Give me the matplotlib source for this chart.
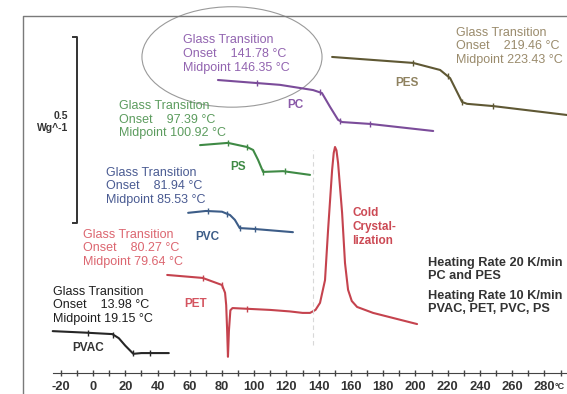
import numpy as np
import matplotlib
matplotlib.use("Agg")
import matplotlib.pyplot as plt
from matplotlib.patches import Ellipse

plt.rcParams['font.family'] = ['Liberation Sans', 'DejaVu Sans']

# DSC curves, temperature in degC, heat flow in W/g (offset stacked)
pvac_T = [-25, -5, 12, 16, 20, 25, 30, 47]
pvac_q = [0.169, 0.165, 0.161, 0.150, 0.130, 0.108, 0.110, 0.110]
pvac_ticks = [-3, 12.4, 24.8, 35.4]

pet_T = [46, 68, 80, 81.9, 82.6, 83.2, 83.7, 84.3, 85.2, 86.5, 110, 122, 130,
         134.6, 138, 140.8, 143.9, 145.8, 148.3, 149.3, 150.1, 151, 152, 154.5,
         156.3, 158.2, 160.5, 163.8, 173.7, 201]
pet_q = [0.320, 0.312, 0.293, 0.272, 0.239, 0.170, 0.100, 0.170, 0.225, 0.231,
         0.226, 0.222, 0.218, 0.218, 0.226, 0.245, 0.306, 0.441, 0.602, 0.648,
         0.664, 0.655, 0.621, 0.487, 0.352, 0.280, 0.250, 0.234, 0.218, 0.188]
pet_ticks = [68.2, 80, 95.5]

pvc_T = [59, 70, 80, 85, 88, 91, 99, 124]
pvc_q = [0.487, 0.492, 0.490, 0.481, 0.468, 0.446, 0.444, 0.435]
pvc_ticks = [71.3, 83, 91, 100.5]

ps_T = [66.4, 83.7, 95.5, 99.3, 102.4, 105.5, 117.9, 134.6]
ps_q = [0.669, 0.675, 0.664, 0.656, 0.629, 0.597, 0.599, 0.589]
ps_ticks = [83.7, 95.5, 105.5, 119]

pc_T = [77.5, 116, 136.5, 142, 147, 152, 154.5, 171.8, 211]
pc_q = [0.844, 0.831, 0.817, 0.809, 0.772, 0.737, 0.731, 0.726, 0.707]
pc_ticks = [101.7, 140.8, 153, 171.8]

pes_T = [148.3, 198.5, 215.3, 221.5, 228.9, 232, 248.1, 294]
pes_q = [0.906, 0.890, 0.871, 0.849, 0.785, 0.780, 0.774, 0.750]
pes_ticks = [198.5, 220, 229, 248]

scale_bar = 0.5
temp_ticks = list(range(-20, 281, 20))

c_pvac = "#262626"
c_pet = "#c5434e"
c_pvc = "#3d5d88"
c_ps = "#3f8a45"
c_pc = "#7b4c9a"
c_pes = "#5f5834"

fig = plt.figure(figsize=(5.67, 3.94), dpi=100)
ax = fig.add_axes([0, 0, 1, 1])
ax.set_xlim(-57.7, 294.0)
ax.set_ylim(0, 1.0591)

curves = [
    (pvac_T, pvac_q, pvac_ticks, c_pvac),
    (pet_T, pet_q, pet_ticks, c_pet),
    (pvc_T, pvc_q, pvc_ticks, c_pvc),
    (ps_T, ps_q, ps_ticks, c_ps),
    (pc_T, pc_q, pc_ticks, c_pc),
    (pes_T, pes_q, pes_ticks, c_pes),
]
for T, q, tk, col in curves:
    ax.plot(T, q, color=col, lw=1.5, solid_capstyle='round')
    ax.plot(tk, np.interp(tk, T, q), ls='none', marker='|', ms=5, mew=1,
            color=col)

# glass transition annotations
ann = dict(fontsize=9, linespacing=1.17, va='center', ha='left')
ax.text(55.8, 0.914, "Glass Transition\nOnset    141.78 °C\nMidpoint 146.35 °C",
        color="#9264b0", **ann)
ax.text(225.2, 0.935, "Glass Transition\nOnset    219.46 °C\nMidpoint 223.43 °C",
        color="#9a8b6c", **ann)
ax.text(16.1, 0.737, "Glass Transition\nOnset    97.39 °C\nMidpoint 100.92 °C",
        color="#5c9c5e", **ann)
ax.text(8.1, 0.559, "Glass Transition\nOnset    81.94 °C\nMidpoint 85.53 °C",
        color="#4a5b92", **ann)
ax.text(-6.2, 0.392, "Glass Transition\nOnset    80.27 °C\nMidpoint 79.64 °C",
        color="#dc6670", **ann)
ax.text(-24.8, 0.239, "Glass Transition\nOnset    13.98 °C\nMidpoint 19.15 °C",
        color="#1e1e1e", **ann)

lab = dict(fontsize=8.5, fontweight='bold', ha='center', va='center')
ax.text(125.3, 0.777, "PC", color="#8a5aa8", **lab)
ax.text(194.8, 0.836, "PES", color="#8f8260", **lab)
ax.text(90, 0.610, "PS", color=c_ps, **lab)
ax.text(70.7, 0.422, "PVC", color=c_pvc, **lab)
ax.text(63.3, 0.242, "PET", color="#d45560", **lab)
ax.text(-3.1, 0.124, "PVAC", color="#333333", **lab)

ax.text(160.7, 0.449, "Cold\nCrystal-\nlization", color="#cc4a55",
        fontsize=8.5, fontweight='bold', linespacing=1.2, va='center')
ax.text(207.8, 0.335, "Heating Rate 20 K/min\nPC and PES", color="#333333",
        fontsize=9.2, fontweight='bold', linespacing=1.1, va='center')
ax.text(207.8, 0.245, "Heating Rate 10 K/min\nPVAC, PET, PVC, PS", color="#333333",
        fontsize=9.2, fontweight='bold', linespacing=1.1, va='center')

# scale bar 0.5 W/g
bar_lo = 0.46
ax.plot([-12.5, -9.9, -9.9, -12.5], [bar_lo + scale_bar, bar_lo + scale_bar,
        bar_lo, bar_lo], color="#333333", lw=1.4)
ax.text(-15.2, bar_lo + scale_bar / 2 + 0.02, "0.5\nWg^-1", ha='right',
        va='center', fontsize=7.5, fontweight='bold', color="#333333",
        linespacing=1.25)

# hand drawn circle around PC label
ax.add_patch(Ellipse((86.2, 0.906), 111.7, 0.27, fill=False, ec="#9a9a9a",
                     lw=0.8))
ax.plot([136.5, 136.5], [0.132, 0.656], color="#d8d8d8", lw=0.8, ls=(0, (4, 3)))

# frame of the scanned sheet
ax.plot([-43.4, -43.4, 294], [0, 1.016, 1.016], color="#7a7a7a", lw=1.0,
        clip_on=False)

# temperature axis
for s in ['left', 'right', 'top']:
    ax.spines[s].set_visible(False)
ax.spines['bottom'].set_position(('data', 0.0565))
ax.spines['bottom'].set_bounds(-25, 294)
ax.spines['bottom'].set_color("#444444")
ax.set_yticks([])
ax.set_xticks(temp_ticks)
ax.set_xticklabels([str(t) for t in temp_ticks])
ax.set_xticks(np.arange(-10, 291, 20), minor=True)
ax.tick_params(axis='x', which='both', direction='inout', length=5, width=1,
               color="#444444", pad=3, labelsize=9.3, labelcolor="#333333")
for t in ax.get_xticklabels():
    t.set_fontweight('bold')
ax.text(286.6, 0.019, "°C", fontsize=6.5, fontweight='bold', color="#333333",
        va='center', ha='left')

fig.savefig("out.png", dpi=100)
